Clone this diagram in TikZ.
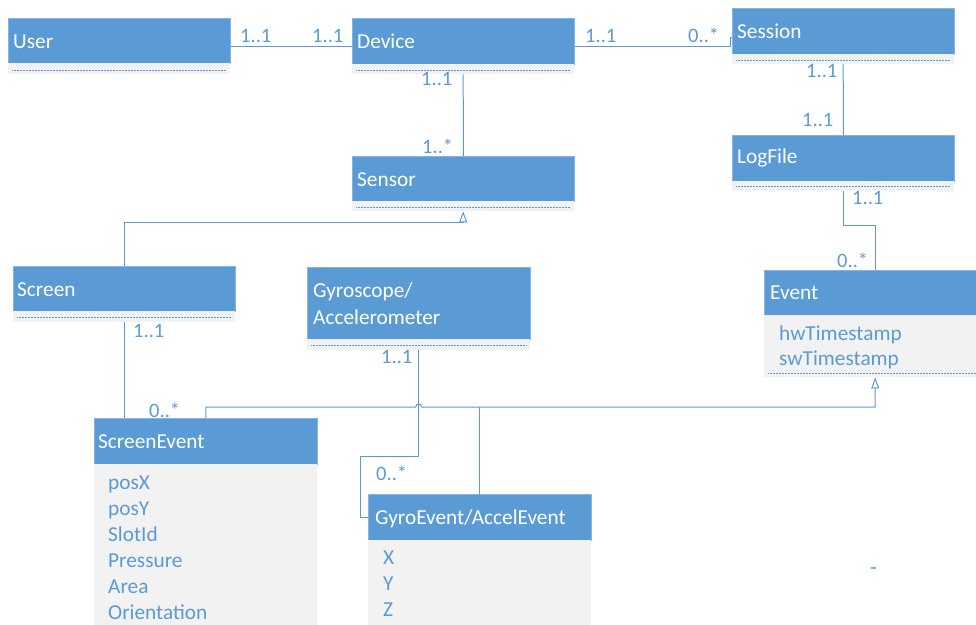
\documentclass[tikz,border=0pt]{standalone}
\usepackage{fontspec}
\setmainfont{Carlito}
\usetikzlibrary{arrows.meta}
\definecolor{umlblue}{HTML}{5B9BD5}
\definecolor{umlgray}{HTML}{F2F2F2}
\tikzset{
  hdr/.style={rectangle, fill=umlblue, draw=umlblue!75!white, line width=0.7pt,
              anchor=north west, inner sep=0pt},
  cmp/.style={rectangle, fill=umlgray, anchor=north west, inner sep=0pt},
  sepline/.style={draw=umlblue, line width=0.7pt, dash pattern=on 0.7pt off 0.8pt},
  title/.style={anchor=base west, inner sep=0pt, text=white,
                font=\fontsize{21.3}{25}\selectfont},
  attr/.style={anchor=base west, inner sep=0pt, text=umlblue,
               font=\fontsize{21.3}{25}\selectfont},
  mult/.style={anchor=base west, inner sep=0pt, text=umlblue,
               font=\fontsize{20.5}{24}\selectfont},
  link/.style={draw=umlblue, line width=1pt},
  gen/.style={link, -{Triangle[open, length=11pt, width=8pt, line width=1pt]}},
}
\begin{document}
\begin{tikzpicture}[x=1pt, y=-1pt]
\useasboundingbox (0,0) rectangle (976,624);
\clip (0,0) rectangle (976,624);

% ---- class boxes: header + compartment ----
\node[hdr, minimum width=222pt, minimum height=45pt] (user) at (8,18) {};
\node[cmp, minimum width=222pt, minimum height=11pt] (userC) at (8,63) {};
\draw[sepline] (12,70) -- (226,70);

\node[hdr, minimum width=222pt, minimum height=46pt] (device) at (352,18) {};
\node[cmp, minimum width=222pt, minimum height=10pt] (deviceC) at (352,64) {};
\draw[sepline] (356,70) -- (570,70);

\node[hdr, minimum width=222pt, minimum height=46pt] (session) at (732,8) {};
\node[cmp, minimum width=222pt, minimum height=10pt] (sessionC) at (732,54) {};
\draw[sepline] (736,60) -- (950,60);

\node[hdr, minimum width=222pt, minimum height=46pt] (logfile) at (732,135) {};
\node[cmp, minimum width=222pt, minimum height=10pt] (logfileC) at (732,181) {};
\draw[sepline] (736,186) -- (950,186);

\node[hdr, minimum width=222pt, minimum height=45pt] (sensor) at (352,156) {};
\node[cmp, minimum width=222pt, minimum height=10pt] (sensorC) at (352,201) {};
\draw[sepline] (356,207) -- (570,207);

\node[hdr, minimum width=222pt, minimum height=45pt] (screen) at (13,266) {};
\node[cmp, minimum width=222pt, minimum height=11pt] (screenC) at (13,311) {};
\draw[sepline] (17,317) -- (231,317);

\node[hdr, minimum width=223pt, minimum height=72pt] (gyro) at (307,267) {};
\node[cmp, minimum width=223pt, minimum height=11pt] (gyroC) at (307,339) {};
\draw[sepline] (311,345) -- (526,345);

\node[hdr, minimum width=222pt, minimum height=45pt] (event) at (764,270) {};
\node[cmp, minimum width=222pt, minimum height=62pt] (eventC) at (764,315) {};
\draw[sepline] (768,373) -- (982,373);

\node[hdr, minimum width=223pt, minimum height=46pt] (screenevent) at (94,418) {};
\node[cmp, minimum width=223pt, minimum height=170pt] (screeneventC) at (94,464) {};

\node[hdr, minimum width=223pt, minimum height=46pt] (gyroevent) at (368,494) {};
\node[cmp, minimum width=223pt, minimum height=95pt] (gyroeventC) at (368,540) {};

% ---- class names ----
\node[title] (tUser)    at (13,48)  {User};
\node[title] (tDevice)  at (357,48) {Device};
\node[title] (tSession) at (737,38) {Session};
\node[title] (tLog)     at (737,163) {LogFile};
\node[title] (tSensor)  at (357,186) {Sensor};
\node[title] (tScreen)  at (17,296) {Screen};
\node[title] (tGyro1)   at (313,297) {Gyroscope/};
\node[title] (tGyro2)   at (313,324) {Accelerometer};
\node[title] (tEvent)   at (770,299) {Event};
\node[title] (tSE)      at (98,448)  {ScreenEvent};
\node[title] (tGE)      at (375,524) {GyroEvent/AccelEvent};

% ---- attributes ----
\node[attr] (aHw) at (779,340) {hwTimestamp};
\node[attr] (aSw) at (779,365) {swTimestamp};
\node[attr] (aPx) at (108,489) {posX};
\node[attr] (aPy) at (108,515) {posY};
\node[attr] (aSl) at (108,541) {SlotId};
\node[attr] (aPr) at (108,567) {Pressure};
\node[attr] (aAr) at (108,593) {Area};
\node[attr] (aOr) at (108,619) {Orientation};
\node[attr] (aX)  at (383,564) {X};
\node[attr] (aY)  at (383,590) {Y};
\node[attr] (aZ)  at (383,616) {Z};
\node[attr, anchor=base] (dash) at (873.5,574) {-};

% ---- associations ----
\draw[link] ([yshift=-5.5pt]user.east) -- ([yshift=-5.5pt]user.east -| device.west);
\draw[link] ([yshift=-5pt]device.east) -| ([xshift=-2pt,yshift=-6pt]session.west)
            -- ([yshift=-6pt]session.west);
\draw[link] (deviceC.south) -- (sensor.north);
\draw[link] (sessionC.south) -- (logfile.north);
\draw[link] (logfileC.south) -- ++(0,34) -| (event.north);
\draw[link] (screenC.south) -- (screenC.south |- screenevent.north);
\draw[link] (gyroC.south) -- ++(0,106) -| ([xshift=-8pt]gyroevent.west) -- (gyroevent.west);

% ---- generalisations ----
\draw[gen] (screen.north) -- ++(0,-44) -| (sensorC.south);
\draw[gen] (screenevent.north) -- ++(0,-11) coordinate (bus)
           -- ([xshift=-3pt]bus -| gyroC.south) arc[start angle=180, end angle=0, radius=3pt]
           -| (eventC.south);
\draw[link] (gyroevent.north) -- (gyroevent.north |- bus);

% ---- multiplicities ----
\node[mult] (m1)  at (240,42)  {1..1};
\node[mult] (m2)  at (312,42)  {1..1};
\node[mult] (m3)  at (585,42)  {1..1};
\node[mult] (m4)  at (688,42)  {0..*};
\node[mult] (m5)  at (421,85)  {1..1};
\node[mult] (m6)  at (422,153) {1..*};
\node[mult] (m7)  at (806,77)  {1..1};
\node[mult] (m8)  at (802,126) {1..1};
\node[mult] (m9)  at (852,204) {1..1};
\node[mult] (m10) at (837,267) {0..*};
\node[mult] (m11) at (133,337) {1..1};
\node[mult] (m12) at (149,417) {0..*};
\node[mult] (m13) at (381,363) {1..1};
\node[mult] (m14) at (376,480) {0..*};
\end{tikzpicture}
\end{document}
